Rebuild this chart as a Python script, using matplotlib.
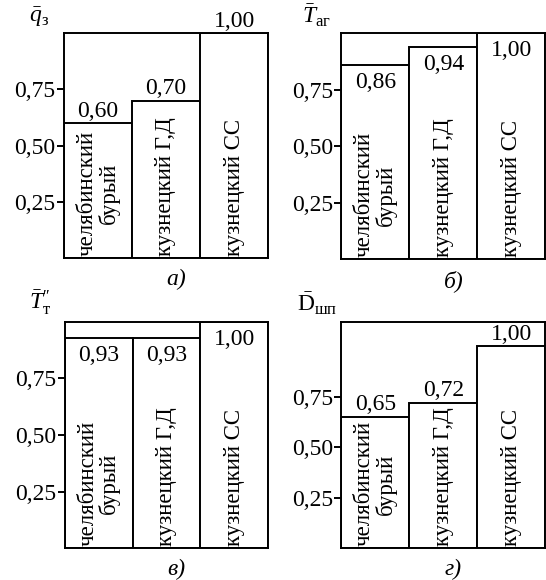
import numpy as np
import matplotlib.pyplot as plt

plt.rcParams["font.family"] = ["Liberation Serif", "DejaVu Serif"]
plt.rcParams["mathtext.fontset"] = "custom"
plt.rcParams["mathtext.rm"] = "Liberation Serif"
plt.rcParams["mathtext.it"] = "Liberation Serif:italic"

# =========================
# Data
# =========================
coals = ["челябинский\nбурый", "кузнецкий Г,Д", "кузнецкий СС"]

q3 = [0.60, 0.70, 1.00]      # а)
t_ag = [0.86, 0.94, 1.00]    # б)
t_t = [0.93, 0.93, 1.00]     # в)
d_shp = [0.65, 0.72, 1.00]   # г)

y_ticks = [0.25, 0.50, 0.75]
tick_labels = ["0,25", "0,50", "0,75"]

# =========================
# Panels: values, y label, caption, where the numbers go
# =========================
panels = [
    (q3, r"$\bar{q}_{\mathrm{з}}$", "а)", "above", 1.0, [0.117, 0.555, 0.374, 0.388]),
    (t_ag, r"$\bar{T}_{\mathrm{аг}}$", "б)", "inside", 1.0, [0.625, 0.553, 0.374, 0.390]),
    (t_t, r"$\bar{T}_{\mathrm{т}}^{\prime\prime}$", "в)", "inside", 1.0, [0.119, 0.055, 0.372, 0.390]),
    (d_shp, r"$\bar{\mathrm{D}}_{\mathrm{шп}}$", "г)", "above", 1.12, [0.625, 0.055, 0.374, 0.390]),
]

FS = 17
LW = 1.4

fig = plt.figure(figsize=(5.46, 5.80), dpi=100)

for vals, ylab, cap, pos, ytop, rect in panels:
    ax = fig.add_axes(rect)
    x = np.arange(len(vals))
    ax.bar(x, vals, width=1.0, color="white", edgecolor="black", linewidth=LW)
    ax.set_xlim(-0.5, len(vals) - 0.5)
    ax.set_ylim(0, ytop)

    ax.set_xticks([])
    ax.set_yticks(y_ticks)
    ax.set_yticklabels(tick_labels, fontsize=FS)
    ax.tick_params(axis="y", direction="out", length=5, width=LW, pad=1)
    for s in ax.spines.values():
        s.set_linewidth(LW)

    # numeric labels
    for xi, v in zip(x, vals):
        txt = f"{v:.2f}".replace(".", ",")
        if pos == "above":
            ax.annotate(txt, (xi, v), xytext=(0, 1), textcoords="offset points",
                        ha="center", va="bottom", fontsize=FS, annotation_clip=False)
        else:
            ax.annotate(txt, (xi, v), xytext=(0, -5), textcoords="offset points",
                        ha="center", va="top", fontsize=FS)

    # coal names inside the bars
    for xi, name in zip(x, coals):
        ax.text(xi, 0.008, name, rotation=90, ha="center", va="bottom",
                multialignment="center", fontsize=16.5, linespacing=1.0)

    # y label and caption
    ax.text(-0.12, 1.02, ylab, transform=ax.transAxes, ha="center", va="bottom",
            fontsize=17)
    ax.text(0.55, -0.095, cap, transform=ax.transAxes, ha="center", va="center",
            fontsize=FS, style="italic")

plt.savefig("out.png", dpi=100)
plt.close()
